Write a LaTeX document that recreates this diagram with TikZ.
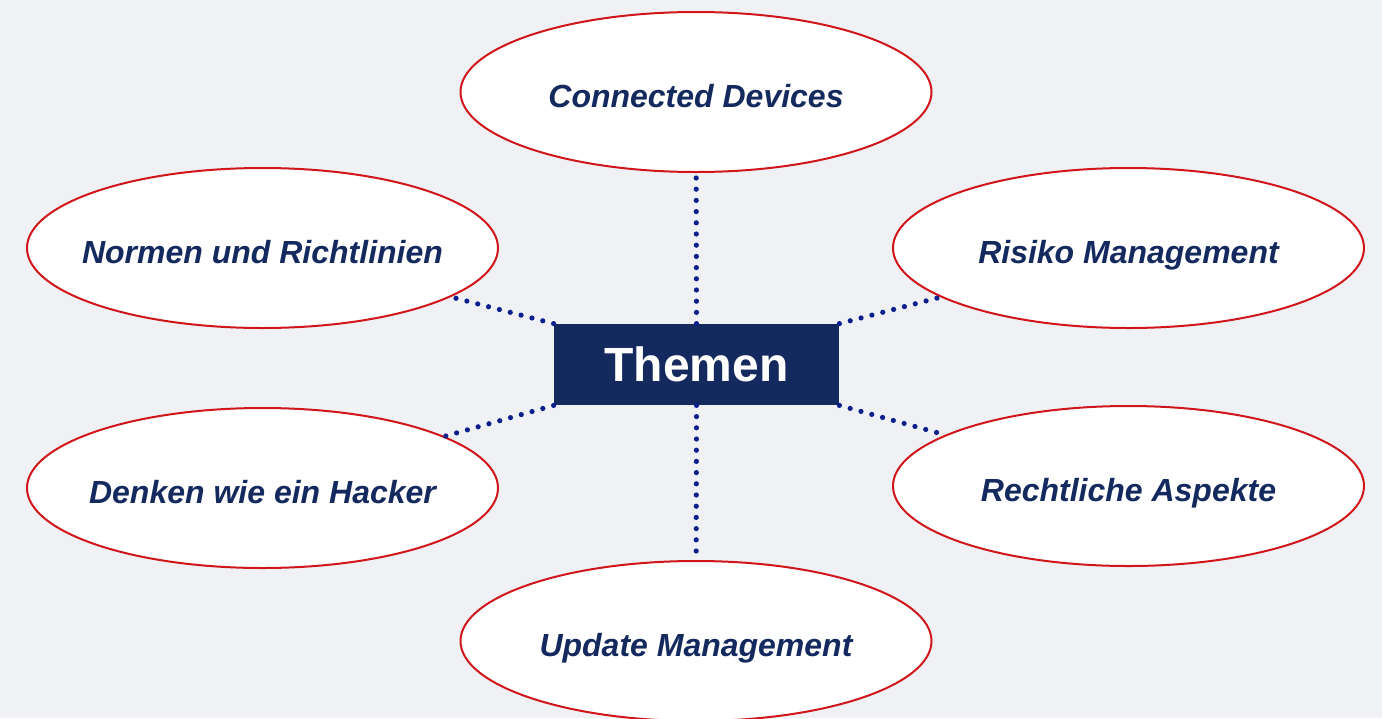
\documentclass[tikz,border=0pt]{standalone}
\usepackage{fontspec}
\setmainfont{Liberation Sans}
\usetikzlibrary{shapes.geometric}
\definecolor{navy}{HTML}{14295E}
\definecolor{ered}{HTML}{D0161B}
\definecolor{dotblue}{HTML}{0D1F8C}
\definecolor{bg}{HTML}{EFF1F4}
\newcommand{\zw}[1]{\makebox[0pt][c]{#1}}
\begin{document}
\begin{tikzpicture}[x=0.5pt,y=-0.5pt,
  topic/.style={ellipse, draw=ered, line width=1pt, fill=white,
    minimum width=235.5pt, minimum height=80pt, inner sep=0pt, text=navy,
    text height=15.5pt, text depth=0pt,
    font=\fontsize{16}{19}\selectfont\bfseries\itshape},
  hub/.style={rectangle, fill=navy, minimum width=142.5pt, minimum height=40.5pt,
    inner sep=0pt, text=white, text height=17.2pt, text depth=0pt,
    font=\fontsize{24}{28}\selectfont\bfseries},
  link/.style={dotblue, line width=2.6pt, line cap=round, dash pattern=on 0pt off 5.6pt}]
\clip (0,0) rectangle (1382,718);
\useasboundingbox (0,0) rectangle (1382,718);
\fill[bg] (0,0) rectangle (1382,718);

\node[hub] (hub) at (696.5,364.5) {Themen};
\node[topic] (cd) at (696,92) {\zw{Connected Devices}};
\node[topic] (nr) at (262.5,248) {\zw{Normen und Richtlinien}};
\node[topic] (rm) at (1128.5,248) {\zw{Risiko Management}};
\node[topic] (dh) at (262.5,488) {\zw{Denken wie ein Hacker}};
\node[topic] (ra) at (1128.5,486) {\zw{Rechtliche Aspekte}};
\node[topic] (um) at (696,641) {\zw{Update Management}};

\draw[link] (hub.north) -- (cd);
\draw[link] (hub.south) -- (um);
\draw[link] (hub.north west) -- (nr);
\draw[link] (hub.south west) -- (dh);
\draw[link] (hub.north east) -- (rm);
\draw[link] (hub.south east) -- (ra);
\end{tikzpicture}
\end{document}
